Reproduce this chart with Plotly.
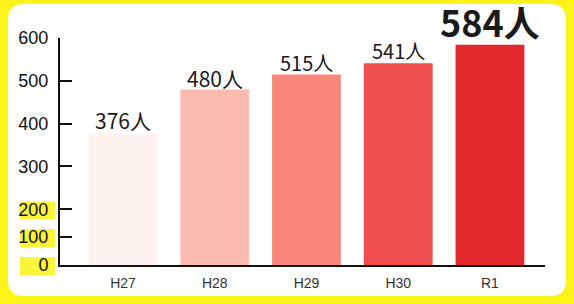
import plotly.graph_objects as go

# ---- data ----
categories = ["H27", "H28", "H29", "H30", "R1"]
values = [376, 480, 515, 541, 584]
value_labels = ["376人", "480人", "515人", "541人", "584人"]
bar_colors = ["#fdf2ee", "#fbbcae", "#f7877a", "#ee4d4c", "#e1292d"]
label_sizes = [21, 21, 20, 20, 36]
label_bold = [False, False, False, False, True]
label_shift = [-2, -5, -4, -3, -3]

# axis starts at a truncated value; labels as printed on the chart
y_tickvals = [70, 135, 200, 300, 400, 500, 600]
y_ticktext = ["0", "100", "200", "300", "400", "500", "600"]
y_range = [70, 600]

W, H = 574, 304
L, R, T, B = 60, 29, 38, 39
pw, ph = W - L - R, H - T - B

def px_x(p):
    return (p - L) / pw

def px_y(p):
    return (H - B - p) / ph

fig = go.Figure()
fig.add_trace(go.Bar(
    x=categories, y=values,
    marker=dict(color=bar_colors, line=dict(width=0)),
    width=0.75, hoverinfo="skip",
))

for c, v, t, s, b, sh in zip(categories, values, value_labels, label_sizes, label_bold, label_shift):
    fig.add_annotation(
        x=c, y=v, text=(f"<b>{t}</b>" if b else t), showarrow=False,
        yanchor="bottom", yshift=sh, borderpad=0,
        font=dict(family="Noto Sans CJK JP", size=s, color="#1a1a1a"),
    )

# white rounded panel on yellow background
x0, x1 = px_x(8), px_x(566)
y0, y1 = px_y(296), px_y(4)
rx, ry = 16 / pw, 16 / ph
path = (f"M {x0+rx},{y0} L {x1-rx},{y0} Q {x1},{y0} {x1},{y0+ry} "
        f"L {x1},{y1-ry} Q {x1},{y1} {x1-rx},{y1} L {x0+rx},{y1} "
        f"Q {x0},{y1} {x0},{y1-ry} L {x0},{y0+ry} Q {x0},{y0} {x0+rx},{y0} Z")
shapes = [dict(type="path", path=path, xref="paper", yref="paper",
               fillcolor="white", line=dict(width=0), layer="below")]
# yellow highlights behind the lower tick labels
for top, bot in [(202, 219), (229, 247), (257, 275)]:
    shapes.append(dict(type="rect", xref="paper", yref="paper",
                       x0=px_x(20), x1=px_x(55), y0=px_y(bot), y1=px_y(top),
                       fillcolor="#fbf43a", line=dict(width=0), layer="below"))

fig.update_layout(
    width=W, height=H,
    margin=dict(l=L, r=R, t=T, b=B, pad=0),
    paper_bgcolor="#fdf21a",
    plot_bgcolor="rgba(0,0,0,0)",
    showlegend=False,
    bargap=0.25,
    shapes=shapes,
    xaxis=dict(
        range=[-0.687, 4.6], showgrid=False, zeroline=False, automargin=False,
        showline=True, linecolor="#111", linewidth=2,
        ticks="", ticklabelstandoff=4,
        tickfont=dict(family="Liberation Sans", size=14, color="#333"),
    ),
    yaxis=dict(
        range=y_range, tickvals=y_tickvals, ticktext=y_ticktext, automargin=False,
        showgrid=False, zeroline=False,
        showline=True, linecolor="#111", linewidth=2,
        ticks="inside", ticklen=12, tickwidth=2, tickcolor="#111",
        ticklabelstandoff=6,
        tickfont=dict(family="Liberation Sans", size=18, color="#111"),
    ),
)

fig.write_html(
    "out.html",
    config={"displayModeBar": False},
    post_script="document.body.style.margin='0';document.body.style.background='#fdf21a';",
)
